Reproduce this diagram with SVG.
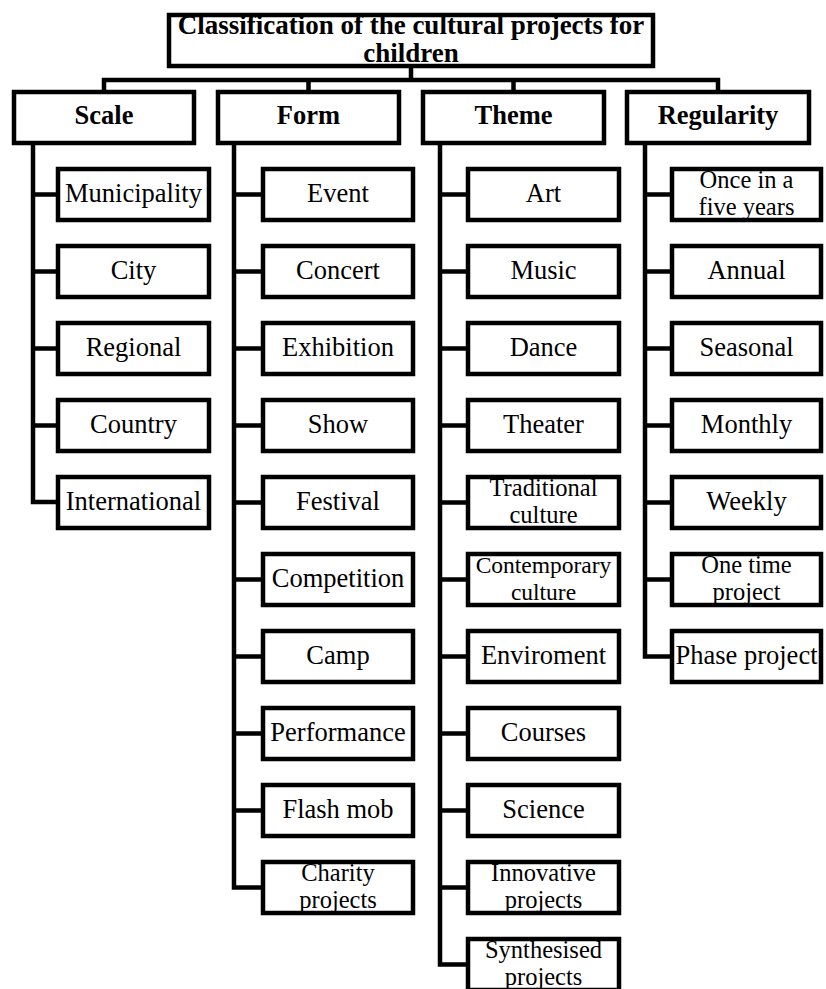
<svg xmlns="http://www.w3.org/2000/svg" width="826" height="989" viewBox="0 0 826 989">
<style>
.box{fill:#fff;stroke:#000;stroke-width:4.5}
.ln{fill:none;stroke:#000;stroke-width:4.5}
.t{font-family:"Liberation Serif","Times New Roman",serif;font-size:26.5px;text-anchor:middle;fill:#000}
.t2{font-family:"Liberation Serif","Times New Roman",serif;font-size:24.5px;text-anchor:middle;fill:#000}
.b{font-family:"Liberation Serif","Times New Roman",serif;font-size:26.5px;font-weight:bold;text-anchor:middle;fill:#000}
.h{font-family:"Liberation Serif","Times New Roman",serif;font-size:27px;font-weight:bold;text-anchor:middle;fill:#000}
</style>
<rect width="826" height="989" fill="#fff"/>
<g id="connectors">
<path class="ln" d="M411,68 V80 M104,90 V80 H718 V90 M308.5,80 V90 M513.5,80 V90"/>
<path class="ln" d="M33,145 V502 H58 M33,194.5 H58 M33,271.5 H58 M33,348.5 H58 M33,425.5 H58"/>
<path class="ln" d="M234,145 V887.5 H263 M234,194.5 H263 M234,271.5 H263 M234,348.5 H263 M234,425.5 H263 M234,502.5 H263 M234,579.5 H263 M234,656.5 H263 M234,733.5 H263 M234,810.5 H263"/>
<path class="ln" d="M440,145 V964.5 H468 M440,194.5 H468 M440,271.5 H468 M440,348.5 H468 M440,425.5 H468 M440,502.5 H468 M440,579.5 H468 M440,656.5 H468 M440,733.5 H468 M440,810.5 H468 M440,887.5 H468"/>
<path class="ln" d="M645,145 V656.5 H672 M645,194.5 H672 M645,271.5 H672 M645,348.5 H672 M645,425.5 H672 M645,502.5 H672 M645,579.5 H672"/>
</g>
<g id="title"><rect class="box" x="169" y="15" width="484" height="51"/><text class="h" x="411" y="34">Classification of the cultural projects for</text><text class="h" x="411" y="62">children</text></g>
<g id="scale"><rect class="box" x="14" y="92" width="180" height="51"/><text class="b" x="104" y="124">Scale</text></g>
<g id="form"><rect class="box" x="218" y="92" width="181" height="51"/><text class="b" x="308.5" y="124">Form</text></g>
<g id="theme"><rect class="box" x="423" y="92" width="181" height="51"/><text class="b" x="513.5" y="124">Theme</text></g>
<g id="regularity"><rect class="box" x="627" y="92" width="182" height="51"/><text class="b" x="718" y="124">Regularity</text></g>

<g id="municipality"><rect class="box" x="58" y="169" width="151" height="51"/><text class="t" x="133.5" y="202">Municipality</text></g>
<g id="city"><rect class="box" x="58" y="246" width="151" height="51"/><text class="t" x="133.5" y="279">City</text></g>
<g id="regional"><rect class="box" x="58" y="323" width="151" height="51"/><text class="t" x="133.5" y="356">Regional</text></g>
<g id="country"><rect class="box" x="58" y="400" width="151" height="51"/><text class="t" x="133.5" y="433">Country</text></g>
<g id="international"><rect class="box" x="58" y="477" width="151" height="51"/><text class="t" x="133.5" y="510">International</text></g>

<g id="event"><rect class="box" x="263" y="169" width="150" height="51"/><text class="t" x="338" y="202">Event</text></g>
<g id="concert"><rect class="box" x="263" y="246" width="150" height="51"/><text class="t" x="338" y="279">Concert</text></g>
<g id="exhibition"><rect class="box" x="263" y="323" width="150" height="51"/><text class="t" x="338" y="356">Exhibition</text></g>
<g id="show"><rect class="box" x="263" y="400" width="150" height="51"/><text class="t" x="338" y="433">Show</text></g>
<g id="festival"><rect class="box" x="263" y="477" width="150" height="51"/><text class="t" x="338" y="510">Festival</text></g>
<g id="competition"><rect class="box" x="263" y="554" width="150" height="51"/><text class="t" x="338" y="587">Competition</text></g>
<g id="camp"><rect class="box" x="263" y="631" width="150" height="51"/><text class="t" x="338" y="664">Camp</text></g>
<g id="performance"><rect class="box" x="263" y="708" width="150" height="51"/><text class="t" x="338" y="741">Performance</text></g>
<g id="flashmob"><rect class="box" x="263" y="785" width="150" height="51"/><text class="t" x="338" y="818">Flash mob</text></g>
<g id="charity"><rect class="box" x="263" y="862" width="150" height="51"/><text class="t2" x="338" y="881">Charity</text><text class="t2" x="338" y="908">projects</text></g>

<g id="art"><rect class="box" x="468" y="169" width="151" height="51"/><text class="t" x="543.5" y="202">Art</text></g>
<g id="music"><rect class="box" x="468" y="246" width="151" height="51"/><text class="t" x="543.5" y="279">Music</text></g>
<g id="dance"><rect class="box" x="468" y="323" width="151" height="51"/><text class="t" x="543.5" y="356">Dance</text></g>
<g id="theater"><rect class="box" x="468" y="400" width="151" height="51"/><text class="t" x="543.5" y="433">Theater</text></g>
<g id="traditional"><rect class="box" x="468" y="477" width="151" height="51"/><text class="t2" x="543.5" y="496">Traditional</text><text class="t2" x="543.5" y="523">culture</text></g>
<g id="contemporary"><rect class="box" x="468" y="554" width="151" height="51"/><text class="t2" x="543.5" y="573" style="font-size:23.5px">Contemporary</text><text class="t2" x="543.5" y="600" style="font-size:23.5px">culture</text></g>
<g id="enviroment"><rect class="box" x="468" y="631" width="151" height="51"/><text class="t" x="543.5" y="664">Enviroment</text></g>
<g id="courses"><rect class="box" x="468" y="708" width="151" height="51"/><text class="t" x="543.5" y="741">Courses</text></g>
<g id="science"><rect class="box" x="468" y="785" width="151" height="51"/><text class="t" x="543.5" y="818">Science</text></g>
<g id="innovative"><rect class="box" x="468" y="862" width="151" height="51"/><text class="t2" x="543.5" y="881">Innovative</text><text class="t2" x="543.5" y="908">projects</text></g>
<g id="synthesised"><rect class="box" x="468" y="939" width="151" height="51"/><text class="t2" x="543.5" y="958">Synthesised</text><text class="t2" x="543.5" y="985">projects</text></g>

<g id="fiveyears"><rect class="box" x="672" y="169" width="149" height="51"/><text class="t2" x="746.5" y="188">Once in a</text><text class="t2" x="746.5" y="215">five years</text></g>
<g id="annual"><rect class="box" x="672" y="246" width="149" height="51"/><text class="t" x="746.5" y="279">Annual</text></g>
<g id="seasonal"><rect class="box" x="672" y="323" width="149" height="51"/><text class="t" x="746.5" y="356">Seasonal</text></g>
<g id="monthly"><rect class="box" x="672" y="400" width="149" height="51"/><text class="t" x="746.5" y="433">Monthly</text></g>
<g id="weekly"><rect class="box" x="672" y="477" width="149" height="51"/><text class="t" x="746.5" y="510">Weekly</text></g>
<g id="onetime"><rect class="box" x="672" y="554" width="149" height="51"/><text class="t2" x="746.5" y="573">One time</text><text class="t2" x="746.5" y="600">project</text></g>
<g id="phase"><rect class="box" x="672" y="631" width="149" height="51"/><text class="t" x="746.5" y="664">Phase project</text></g>
</svg>
